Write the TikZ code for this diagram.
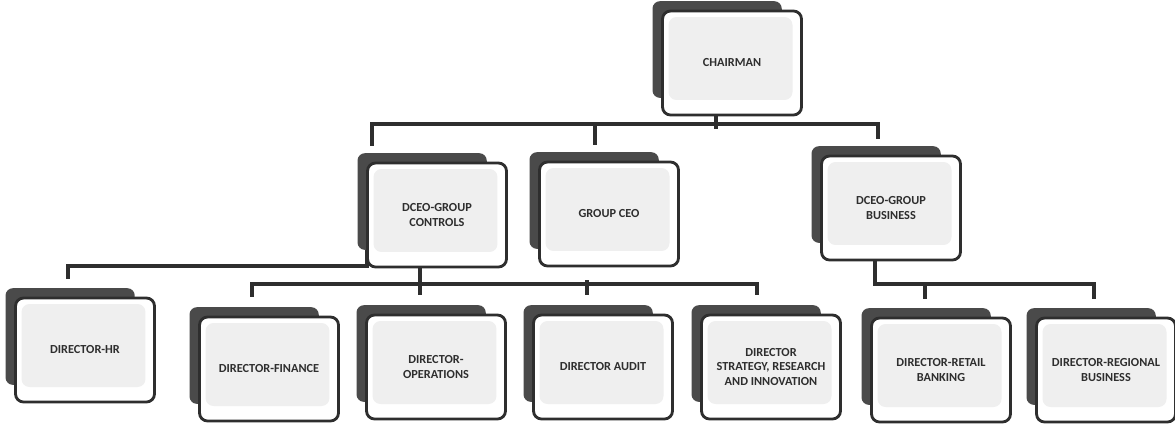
\documentclass[tikz,border=0pt]{standalone}
\usepackage{xcolor}
\usepackage{fontspec}
\setsansfont{Carlito}
\usetikzlibrary{shadows,calc}
\definecolor{boxback}{HTML}{4A4A4A}
\definecolor{boxline}{HTML}{2E2E2E}
\definecolor{boxfill}{HTML}{EFEFEF}

\begin{document}
\begin{tikzpicture}[x={(0.02cm,0)}, y={(0,-0.02cm)},
    post/.style={rectangle, rounded corners=0.16cm, draw=boxline, line width=1.6pt,
        fill=white, minimum width=2.78cm, minimum height=2.08cm, align=center,
        text=boxline, font=\sffamily\bfseries\fontsize{7}{8.5}\selectfont,
        general shadow={fill=boxback, shadow scale=0.93,
            shadow xshift=-0.32cm, shadow yshift=0.29cm},
        path picture={\fill[boxfill]
            ([shift={(0.12cm,-0.12cm)}]path picture bounding box.north west) rectangle
            ([shift={(-0.18cm,0.3cm)}]path picture bounding box.south east);}},
    link/.style={draw=boxline, line width=2.2pt}]
\useasboundingbox (0,0) rectangle (1175,423);

\node (chair) at (732,63) [post] {CHAIRMAN};

\node (ctrl) at (437,215) [post] {DCEO-GROUP\\CONTROLS};
\node (gceo) at (609,214) [post] {GROUP CEO};
\node (busi) at (891,208) [post] {DCEO-GROUP\\BUSINESS};

\node (hr) at (85,350) [post] {DIRECTOR-HR};
\node (fin) at (269,369) [post] {DIRECTOR-FINANCE};
\node (ops) at (436,367) [post] {DIRECTOR-\\OPERATIONS};
\node (aud) at (603,367) [post] {DIRECTOR AUDIT};
\node (str) at (771,367) [post] {DIRECTOR\\STRATEGY, RESEARCH\\AND INNOVATION};
\node (ret) at (941,370) [post] {DIRECTOR-RETAIL\\BANKING};
\node (reg) at (1106,370) [post] {DIRECTOR-REGIONAL\\BUSINESS};

% chairman to level one
\coordinate (b1) at ($(chair.south)+(-16,13)$);
\draw[link] (chair.south -| b1) -- (b1);
\draw[link] ($(ctrl.north)+(-65,-16)$) |- ($(busi.north)+(-13,-31)$) -- ++(0,15);
\draw[link] ($(gceo.north)+(-14,-16)$) -- ++(0,-20);

% dceo controls
\draw[link] ($(ctrl.south west)+(1,-18)$) -- ++(0,16) -| ($(hr.north)+(-17,-18)$);
\coordinate (b2) at ($(ctrl.south)+(-17,16)$);
\draw[link] (ctrl.south -| b2) -- (b2);
\draw[link] ($(fin.north)+(-17,-19)$) |- (b2) -| ($(str.north)+(-14,-19)$);
\foreach \n in {ops,aud}
    \draw[link] ($(\n.north)+(-16,-19)$) -- ++(0,-15);

% dceo business
\coordinate (b3) at ($(busi.south)+(-16,25)$);
\draw[link] (busi.south -| b3) |- ($(reg.north)+(-12,-33)$) -- ++(0,15);
\draw[link] ($(ret.north)+(-16,-18)$) -- ++(0,-15);
\end{tikzpicture}
\end{document}
